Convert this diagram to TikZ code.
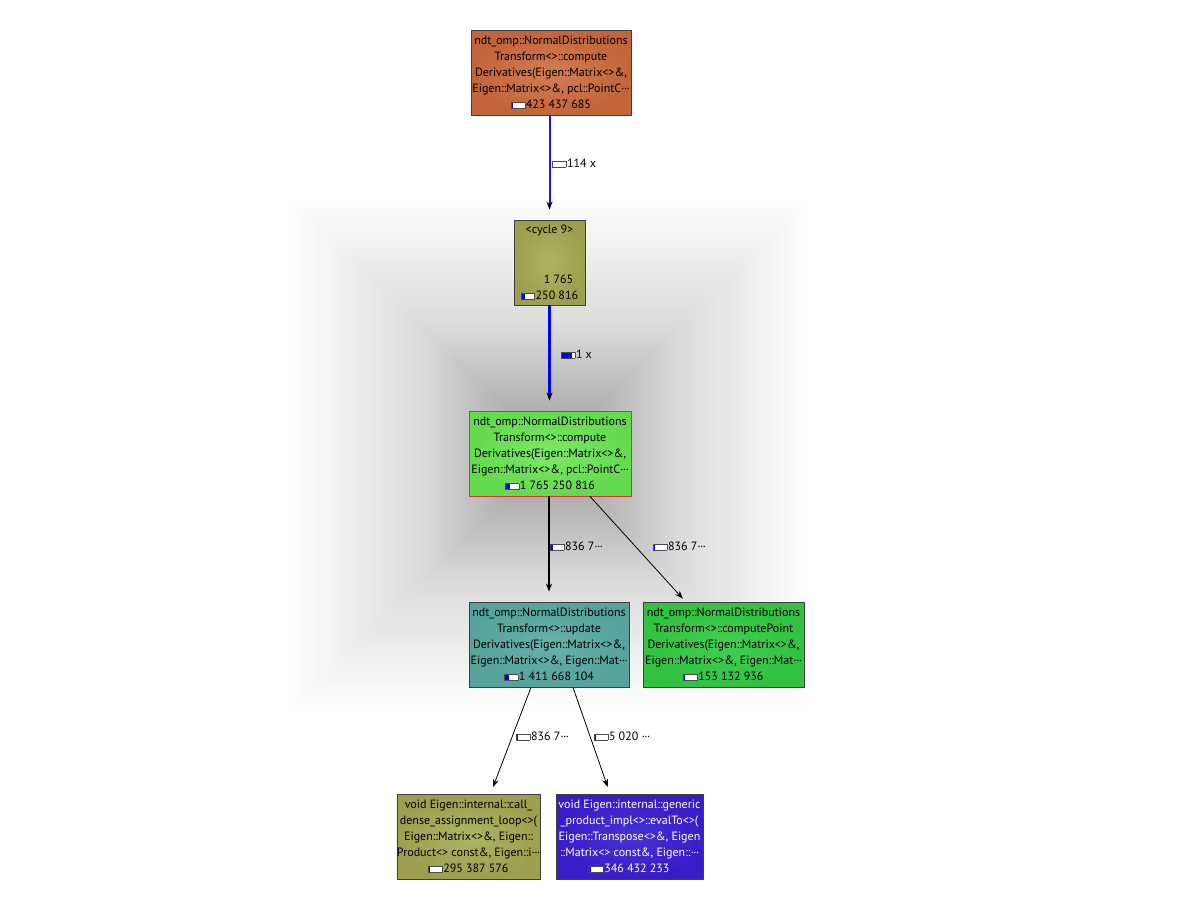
\documentclass[tikz,border=0pt]{standalone}
\usepackage{fontspec}
\setmainfont{PT Sans}
\usetikzlibrary{arrows.meta,shadows}
\newcommand\cgbar[1]{\raisebox{0.3pt}{\setlength{\fboxsep}{0pt}\setlength{\fboxrule}{0.6pt}\fcolorbox{black!70}{white}{\textcolor{blue}{\rule{#1pt}{5.5pt}}\hspace{\dimexpr 13pt-#1pt\relax}}}\hspace{0.6pt}}
\newcommand\cdts{\raisebox{3pt}{\kern0.5pt.\kern0.1pt.\kern0.1pt.}}
\definecolor{cOrange}{HTML}{C4643A}
\definecolor{cOrangeL}{HTML}{D27C52}
\definecolor{cOlive}{HTML}{9CA04E}
\definecolor{cOliveL}{HTML}{ACB462}
\definecolor{cGreen}{HTML}{64DA4E}
\definecolor{cGreenL}{HTML}{7CE866}
\definecolor{cTeal}{HTML}{55A39B}
\definecolor{cTealL}{HTML}{66B1A9}
\definecolor{cGreen2}{HTML}{30C240}
\definecolor{cGreen2L}{HTML}{42CE52}
\definecolor{cBlue}{HTML}{381CC8}
\definecolor{cBlueL}{HTML}{4632D2}
\definecolor{cRed}{HTML}{E03030}
\definecolor{edgeBlue}{HTML}{1414F0}
\tikzset{
  box/.style={draw=black!75, line width=0.8pt, inner sep=0pt, align=center,
    minimum height=85pt, text=black,
    font=\fontsize{12}{16}\selectfont,
    drop shadow={shadow xshift=1.2pt, shadow yshift=-1.2pt, opacity=0.3}},
  lbl/.style={anchor=west, inner sep=0pt, font=\fontsize{12}{13}\selectfont, text=black},
  thin edge/.style={draw=black, line width=0.8pt, -{Stealth[black,length=8pt,width=6pt]}},
  bgshade/.style={middle color=black!14},
}
\begin{document}
\begin{tikzpicture}[x=1pt,y=-1pt]
\useasboundingbox (0,0) rectangle (1200,908);
% background pyramid shading
\coordinate (bgc) at (550,453);
\shade[top color=white, bottom color=black!40, bgshade] (290,195) -- (810,195) -- (bgc) -- cycle;
\shade[top color=black!40, bottom color=white, bgshade] (290,712) -- (810,712) -- (bgc) -- cycle;
\shade[left color=white, right color=black!40, bgshade] (290,195) -- (290,712) -- (bgc) -- cycle;
\shade[left color=black!40, right color=white, bgshade] (810,195) -- (810,712) -- (bgc) -- cycle;

% nodes
\node[box, minimum width=160pt, inner color=cOrangeL, outer color=cOrange] (topn) at (551,72.5)
 {ndt\_omp::NormalDistributions\\Transform<>::compute\\Derivatives(Eigen::Matrix<>\&,\\Eigen::Matrix<>\&, pcl::PointC\cdts\\\cgbar{0.8}423 437 685};
\node[box, minimum width=71pt, inner color=cOliveL, outer color=cOlive] (cyc) at (549.5,262.5)
 {<cycle 9>\\[34pt]\hspace*{18pt}1 765\\\cgbar{4}250 816};
\node[box, draw=cRed, minimum width=162pt, inner color=cGreenL, outer color=cGreen] (green) at (550,453.5)
 {ndt\_omp::NormalDistributions\\Transform<>::compute\\Derivatives(Eigen::Matrix<>\&,\\Eigen::Matrix<>\&, pcl::PointC\cdts\\\cgbar{4}1 765 250 816};
\node[box, minimum width=160pt, inner color=cTealL, outer color=cTeal] (teal) at (549,644.5)
 {ndt\_omp::NormalDistributions\\Transform<>::update\\Derivatives(Eigen::Matrix<>\&,\\Eigen::Matrix<>\&, Eigen::Mat\cdts\\\cgbar{4}1 411 668 104};
\node[box, minimum width=161pt, inner color=cGreen2L, outer color=cGreen2] (right) at (723.5,644.5)
 {ndt\_omp::NormalDistributions\\Transform<>::computePoint\\Derivatives(Eigen::Matrix<>\&,\\Eigen::Matrix<>\&, Eigen::Mat\cdts\\\cgbar{0.6}153 132 936};
\node[box, minimum width=143pt, inner color=cOliveL, outer color=cOlive] (bl) at (468.5,836.5)
 {void Eigen::internal::call\_\\dense\_assignment\_loop<>(\\Eigen::Matrix<>\&, Eigen::\\Product<> const\&, Eigen::i\cdts\\\cgbar{0.6}295 387 576};
\node[box, minimum width=147pt, inner color=cBlueL, outer color=cBlue, text=white] (br) at (629.5,836.5)
 {void Eigen::internal::generic\\\_product\_impl<>::evalTo<>(\\Eigen::Transpose<>\&, Eigen\\::Matrix<> const\&, Eigen::\cdts\\\cgbar{0.6}346 432 233};

% edges
\draw[draw=edgeBlue, line width=2pt, -{Stealth[black,length=8pt,width=6pt]}, shorten >=10pt]
  ([xshift=-1.5pt]topn.south) -- (cyc.north);
\draw[draw=blue, line width=3pt, -{Stealth[black,length=8pt,width=6pt]}, shorten >=10pt]
  (cyc.south) -- ([xshift=-0.5pt]green.north);
\draw[black, line width=2.5pt, -{Stealth[black,length=8pt,width=6pt]}, shorten >=10pt]
  ([xshift=-1pt]green.south) -- (teal.north);
\draw[thin edge, shorten >=4pt] ([xshift=40pt]green.south) -- ([xshift=-38pt]right.north);
\draw[thin edge, shorten >=7pt] ([xshift=-18pt]teal.south) -- ([xshift=22pt]bl.north);
\draw[thin edge, shorten >=7pt] ([xshift=24pt]teal.south) -- ([xshift=-19.5pt]br.north);

% edge labels
\node[lbl] (l1) at (552,163) {\cgbar{0}114 x};
\node[lbl] (l2) at (561,354) {\cgbar{10}1 x};
\node[lbl] (l3) at (550,546) {\cgbar{2}836 7\cdts};
\node[lbl] (l4) at (653,546) {\cgbar{0.6}836 7\cdts};
\node[lbl] (l5) at (516,736) {\cgbar{0.6}836 7\cdts};
\node[lbl] (l6) at (594,736) {\cgbar{0.6}5 020 \cdts};
\end{tikzpicture}
\end{document}
